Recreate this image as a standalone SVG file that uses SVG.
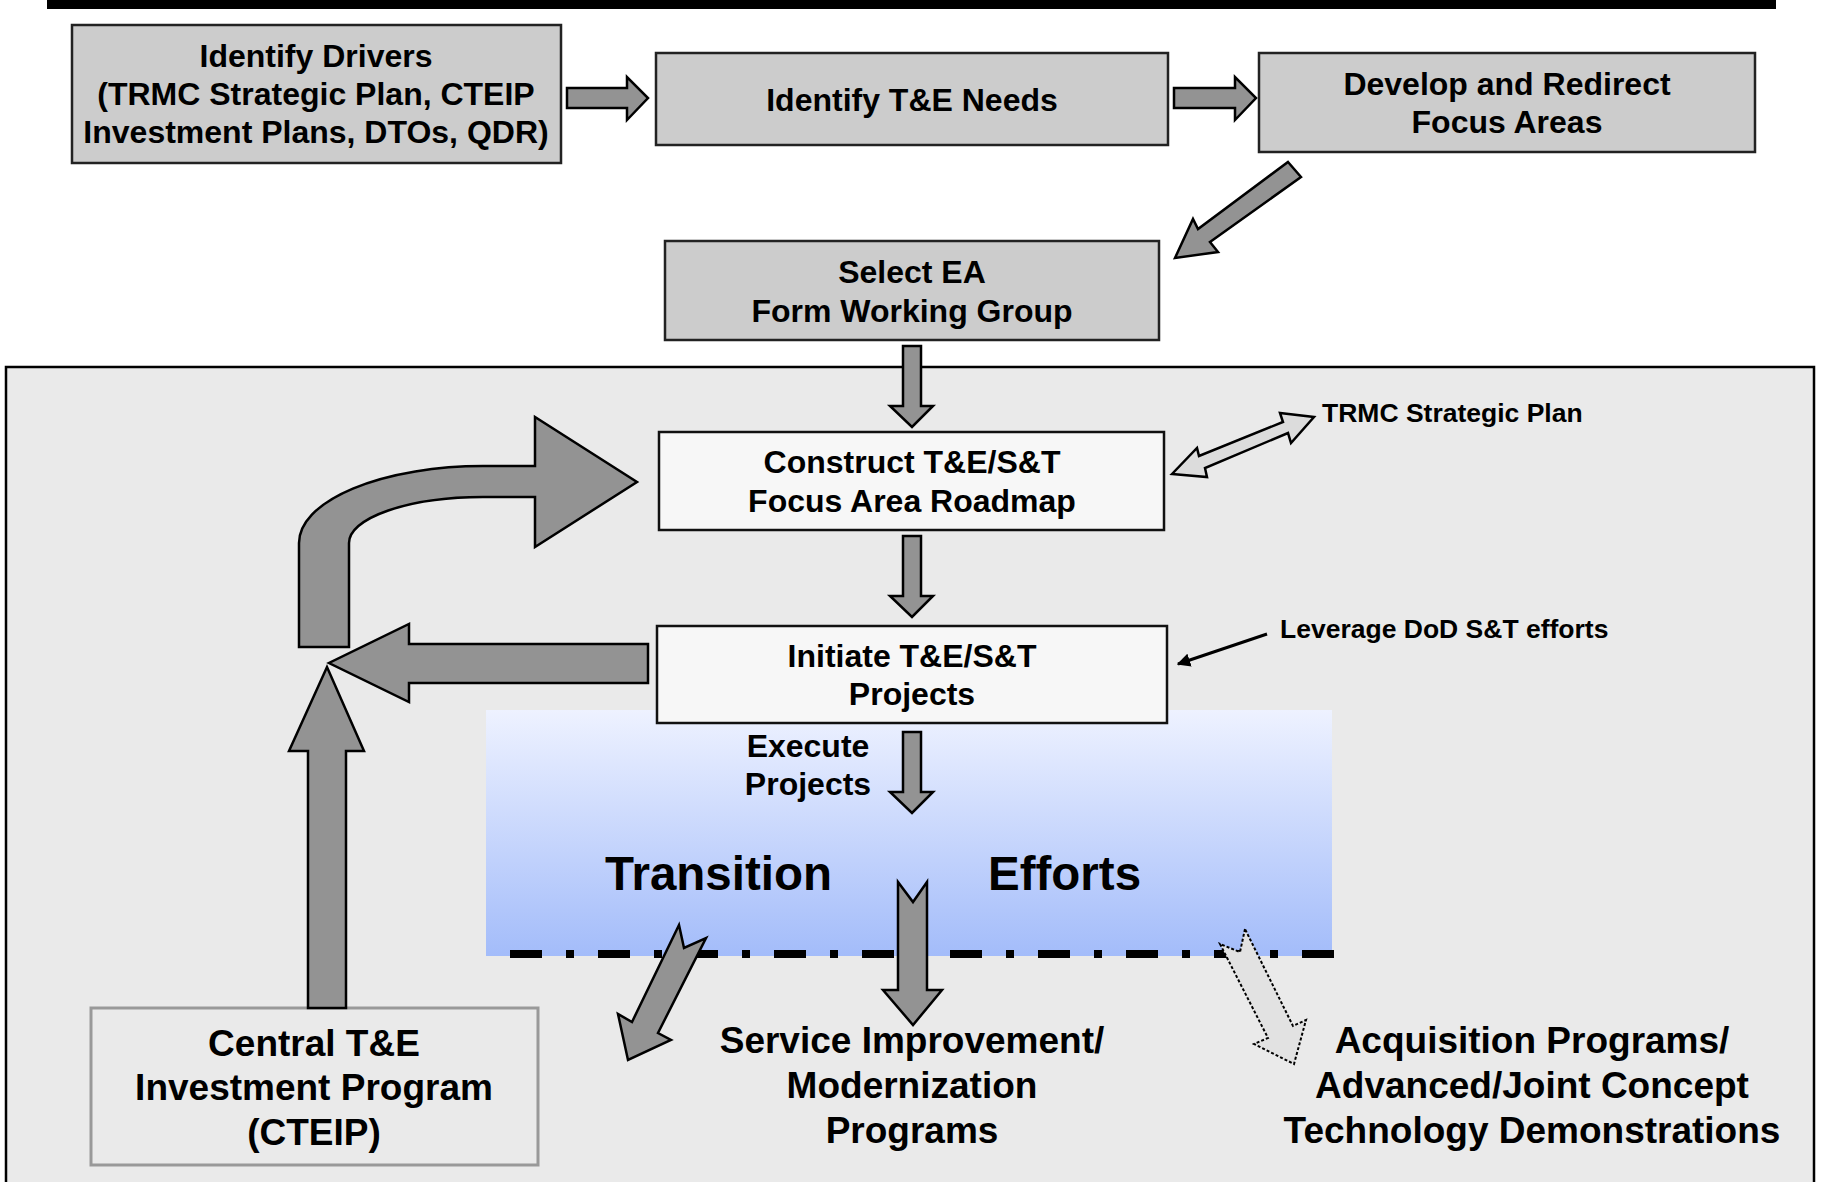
<svg xmlns="http://www.w3.org/2000/svg" width="1826" height="1182" viewBox="0 0 1826 1182">
<defs>
<linearGradient id="blueGrad" x1="0" y1="0" x2="0" y2="1">
<stop offset="0" stop-color="#eef2ff"/>
<stop offset="1" stop-color="#a3bcfa"/>
</linearGradient>
<marker id="smallHead" viewBox="0 0 10 10" refX="9" refY="5" markerWidth="4.5" markerHeight="4.5" orient="auto" markerUnits="strokeWidth">
<path d="M0,0 L10,5 L0,10 Z" fill="#000"/>
</marker>
</defs>
<style>
text { font-family: "Liberation Sans", Arial, sans-serif; font-weight: bold; fill: #000; text-anchor: middle; }
.box { fill: #cccccc; stroke: #222; stroke-width: 2.5; }
.wbox { fill: #f7f7f7; stroke: #111; stroke-width: 2.5; }
.arr { fill: #939393; stroke: #000; stroke-width: 2.5; stroke-linejoin: miter; }
.t32 { font-size: 32px; }
.t37 { font-size: 37px; }
.t26 { font-size: 26.5px; text-anchor: start; }
.t46 { font-size: 47.5px; text-anchor: start; }
</style>

<rect id="topbar" x="47" y="0" width="1729" height="9" fill="#000"/>

<rect id="panel" x="6" y="367" width="1808" height="830" fill="#eaeaea" stroke="#000" stroke-width="2.5"/>
<rect id="transition-zone" x="486" y="710" width="846" height="246" fill="url(#blueGrad)"/>
<line id="divider" x1="510" y1="954" x2="1336" y2="954" stroke="#000" stroke-width="8" stroke-dasharray="32 24 8 24"/>

<g id="n-drivers">
<rect class="box" x="72" y="25" width="489" height="138"/>
<text class="t32" x="316" y="67">Identify Drivers</text>
<text class="t32" x="316" y="105">(TRMC Strategic Plan, CTEIP</text>
<text class="t32" x="316" y="143">Investment Plans, DTOs, QDR)</text>
</g>
<g id="n-needs">
<rect class="box" x="656" y="53" width="512" height="92"/>
<text class="t32" x="912" y="111">Identify T&amp;E Needs</text>
</g>
<g id="n-focus">
<rect class="box" x="1259" y="53" width="496" height="99"/>
<text class="t32" x="1507" y="95">Develop and Redirect</text>
<text class="t32" x="1507" y="133">Focus Areas</text>
</g>
<g id="n-select">
<rect class="box" x="665" y="241" width="494" height="99"/>
<text class="t32" x="912" y="283">Select EA</text>
<text class="t32" x="912" y="322">Form Working Group</text>
</g>
<g id="n-roadmap">
<rect class="wbox" x="659" y="432" width="505" height="98"/>
<text class="t32" x="912" y="473">Construct T&amp;E/S&amp;T</text>
<text class="t32" x="912" y="512">Focus Area Roadmap</text>
</g>
<g id="n-initiate">
<rect class="wbox" x="657" y="626" width="510" height="97"/>
<text class="t32" x="912" y="667">Initiate T&amp;E/S&amp;T</text>
<text class="t32" x="912" y="705">Projects</text>
</g>
<g id="n-cteip">
<rect x="91" y="1008" width="447" height="157" fill="#eaeaea" stroke="#999" stroke-width="3"/>
<text class="t37" x="314" y="1056">Central T&amp;E</text>
<text class="t37" x="314" y="1100">Investment Program</text>
<text class="t37" x="314" y="1145">(CTEIP)</text>
</g>
<g id="n-trmc">
<text class="t26" x="1322" y="422">TRMC Strategic Plan</text>
</g>
<g id="n-leverage">
<text class="t26" x="1280" y="638">Leverage DoD S&amp;T efforts</text>
</g>
<g id="n-execute">
<text class="t32" x="808" y="757">Execute</text>
<text class="t32" x="808" y="795">Projects</text>
</g>
<g id="n-transition">
<text class="t46" x="605" y="890">Transition</text>
<text class="t46" x="988" y="890">Efforts</text>
</g>
<g id="n-service">
<text class="t37" x="912" y="1053">Service Improvement/</text>
<text class="t37" x="912" y="1098">Modernization</text>
<text class="t37" x="912" y="1143">Programs</text>
</g>
<g id="n-acq">
<text class="t37" x="1532" y="1053">Acquisition Programs/</text>
<text class="t37" x="1532" y="1098">Advanced/Joint Concept</text>
<text class="t37" x="1532" y="1143">Technology Demonstrations</text>
</g>

<g id="connectors">
<polygon class="arr" points="567,88 627,88 627,77 648,98 627,120 627,108 567,108"/>
<polygon class="arr" points="1174,88 1235,88 1235,77 1256,98 1235,120 1235,108 1174,108"/>
<polygon class="arr" points="1288,162 1301,177 1210,242 1218,252 1175,258 1193,219 1198,229"/>
<polygon class="arr" points="903,346 921,346 921,406 933,406 912,427 890,406 903,406"/>
<polygon class="arr" points="903,536 921,536 921,596 933,596 912,617 890,596 903,596"/>
<polygon class="arr" points="903,732 921,732 921,792 933,792 912,813 890,792 903,792"/>
<polygon points="1172,474 1197,448 1199,456 1283,422 1280,413 1314,417 1291,443 1288,433 1205,468 1207,477" fill="#dcdcdc" stroke="#000" stroke-width="2.5"/>
<line x1="1267" y1="634" x2="1178" y2="664" stroke="#000" stroke-width="3" marker-end="url(#smallHead)"/>
<polygon class="arr" points="308,1008 308,751 289,751 327,667 364,751 346,751 346,1008"/>
<polygon class="arr" points="648,644 409,644 409,624 329,663 409,702 409,683 648,683"/>
<path class="arr" d="M299,647 L299,543 A184,77 0 0 1 483,466 L535,466 L535,417 L637,482 L535,547 L535,497 L483,497 A134,46 0 0 0 349,543 L349,647 Z"/>
<polygon class="arr" points="898,882 913,902 927,882 927,990 942,990 913,1025 883,990 898,990"/>
<polygon class="arr" points="679,925 684,948 706,938 658,1033 671,1040 628,1060 618,1014 632,1022"/>
<polygon points="1245,929 1240,952 1220,944 1268,1038 1254,1044 1294,1064 1306,1020 1293,1026" fill="#e2e2e2" stroke="#000" stroke-width="2" stroke-dasharray="3 2"/>
</g>
</svg>
